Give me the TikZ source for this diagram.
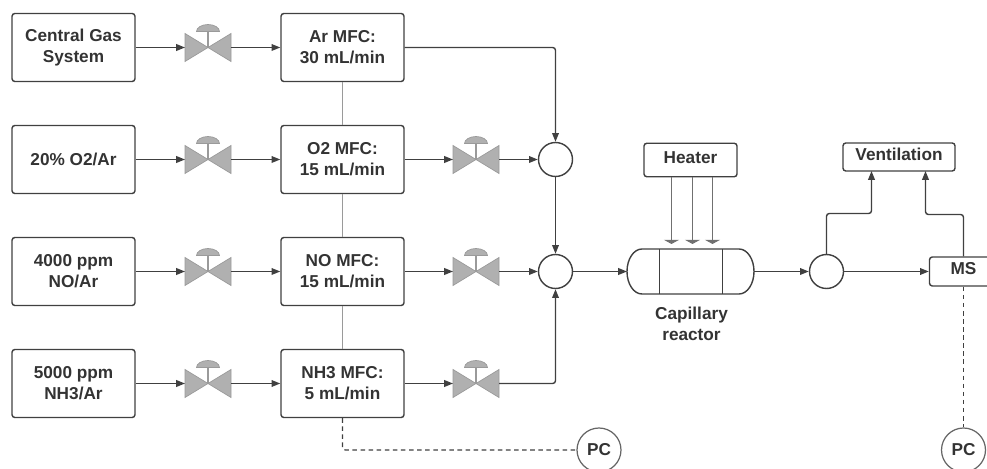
\documentclass[tikz,border=0pt]{standalone}
\usepackage{fontspec}
\setmainfont{Liberation Sans}
\usetikzlibrary{arrows.meta}
\definecolor{linecol}{HTML}{404040}
\definecolor{textcol}{HTML}{333333}
\definecolor{softcol}{HTML}{9A9A9A}
\definecolor{valvecol}{HTML}{B0B0B0}
\tikzset{
    labelfont/.style={font=\bfseries\fontsize{9.8}{11.9}\selectfont, text=textcol, align=center},
    box/.style={shape=rectangle, draw=linecol, line width=0.8pt, rounded corners=1.6pt, labelfont, inner sep=0pt},
    gasbox/.style={box, minimum width=2.46cm, minimum height=1.36cm},
    junction/.style={shape=circle, draw=linecol, line width=0.8pt, minimum size=0.68cm, inner sep=0pt},
    pcnode/.style={shape=circle, draw=linecol!80, line width=0.7pt, minimum size=0.88cm, inner sep=0pt, labelfont},
    flow/.style={draw=linecol, line width=0.8pt, rounded corners=1.6pt, -{Triangle[length=5pt,width=3.8pt]}},
    wall/.style={draw=linecol, line width=0.8pt},
    link/.style={draw=softcol, line width=0.7pt},
    signal/.style={draw=linecol, line width=0.7pt, rounded corners=1.6pt, dash pattern=on 2.6pt off 2pt},
    heat/.style={draw=linecol!75, line width=0.8pt, -{Triangle[length=2.4pt,width=8.6pt]}},
    valve/.pic={
        \node[shape=rectangle, minimum width=0.92cm, minimum height=0.56cm, inner sep=0pt, outer sep=0pt] (-body) at (0,0) {};
        \draw[draw=softcol, fill=valvecol, line width=0.4pt] (-23,-14) -- (23,14) -- (23,-14) -- (-23,14) -- cycle;
        \draw[draw=softcol, line width=0.7pt] (0,0) -- (0,-16);
        \draw[draw=softcol, fill=valvecol, line width=0.4pt] (-11.5,-16) arc[start angle=180, end angle=360, x radius=11.5, y radius=7] -- cycle;
    }
}

\begin{document}
\begin{tikzpicture}[x=0.02cm, y=-0.02cm]

            \useasboundingbox (0,0) rectangle (987,469);

            % gas sources
            \node[gasbox] (central) at (73.5,47.5) {Central Gas\\System};
            \node[gasbox] (oxygen) at (73.5,159.5) {20\% O2/Ar};
            \node[gasbox] (nitric) at (73.5,271.5) {4000 ppm\\NO/Ar};
            \node[gasbox] (ammonia) at (73.5,383.5) {5000 ppm\\NH3/Ar};

            % mass flow controllers
            \node[gasbox] (mfcAr) at (342.5,47.5) {Ar MFC:\\30 mL/min};
            \node[gasbox] (mfcO) at (342.5,159.5) {O2 MFC:\\15 mL/min};
            \node[gasbox] (mfcNO) at (342.5,271.5) {NO MFC:\\15 mL/min};
            \node[gasbox] (mfcNH) at (342.5,383.5) {NH3 MFC:\\5 mL/min};

            % valves
            \pic (vA) at (208,47.5) {valve};
            \pic (vB) at (208,159.5) {valve};
            \pic (vC) at (208,271.5) {valve};
            \pic (vD) at (208,383.5) {valve};
            \pic (vE) at (476,159.5) {valve};
            \pic (vF) at (476,271.5) {valve};
            \pic (vG) at (476,383.5) {valve};

            % junctions
            \node[junction] (J1) at (555.5,159.5) {};
            \node[junction] (J2) at (555.5,271.5) {};
            \node[junction] (J3) at (826.5,271.5) {};

            % reactor section
            \node[shape=rectangle, minimum width=2.54cm, minimum height=0.9cm, inner sep=0pt, outer sep=0pt] (reactor) at (690.5,271.5) {};
            \draw[wall] (642,249) -- (739,249) arc[start angle=-90, end angle=90, x radius=15, y radius=22.5] -- (642,294) arc[start angle=90, end angle=270, x radius=15, y radius=22.5] -- cycle;
            \node[labelfont] (capillary) at (691.5,324) {Capillary\\reactor};
            \node[box, minimum width=1.86cm, minimum height=0.67cm, text depth=3pt] (heater) at (690.5,160) {Heater};
            \node[box, minimum width=2.24cm, minimum height=0.56cm, text depth=3pt] (vent) at (899,157) {Ventilation};
            \node[box, minimum width=1.36cm, minimum height=0.58cm, text depth=3pt] (MS) at (963.5,271.5) {MS};
            \node[pcnode] (PC1) at (599,450) {PC};
            \node[pcnode] (PC2) at (963.5,450) {PC};

            \coordinate (wallL) at (659.5,271.5);
            \coordinate (wallR) at (722.5,271.5);
            \coordinate (heatA) at (671.5,244);
            \coordinate (heatB) at (692.5,244);
            \coordinate (heatC) at (712.5,244);
            \coordinate (ventL) at (871.5,171);
            \coordinate (ventR) at (925.5,171);

            \draw[flow] (central) -- (vA-body);
            \draw[flow] (oxygen) -- (vB-body);
            \draw[flow] (nitric) -- (vC-body);
            \draw[flow] (ammonia) -- (vD-body);
            \draw[flow] (vA-body) -- (mfcAr);
            \draw[flow] (vB-body) -- (mfcO);
            \draw[flow] (vC-body) -- (mfcNO);
            \draw[flow] (vD-body) -- (mfcNH);
            \draw[flow] (mfcO) -- (vE-body);
            \draw[flow] (mfcNO) -- (vF-body);
            \draw[flow] (mfcNH) -- (vG-body);
            \draw[flow] (vE-body) -- (J1);
            \draw[flow] (vF-body) -- (J2);

            \draw[flow] (mfcAr) -| (J1);
            \draw[flow] (J1) -- (J2);
            \draw[flow] (vG-body) -| (J2);
            \draw[flow] (J2) -- (reactor);
            \draw[flow] (reactor) -- (J3);
            \draw[flow] (J3) -- (MS);

            \draw[link] (mfcAr) -- (mfcO);
            \draw[link] (mfcO) -- (mfcNO);
            \draw[link] (mfcNO) -- (mfcNH);

            \draw[wall] (reactor.north -| wallL) -- (reactor.south -| wallL);
            \draw[wall] (reactor.north -| wallR) -- (reactor.south -| wallR);

            \draw[heat] (heater.south -| heatA) -- (heatA);
            \draw[heat] (heater.south -| heatB) -- (heatB);
            \draw[heat] (heater.south -| heatC) -- (heatC);

            \draw[flow] (J3) |- (871.5,213.5) -- (ventL);
            \draw[flow] (MS) |- (925.5,214.5) -- (ventR);

            \draw[signal] (mfcNH) |- (PC1);
            \draw[signal] (MS) -- (PC2);

        \end{tikzpicture}
\end{document}
